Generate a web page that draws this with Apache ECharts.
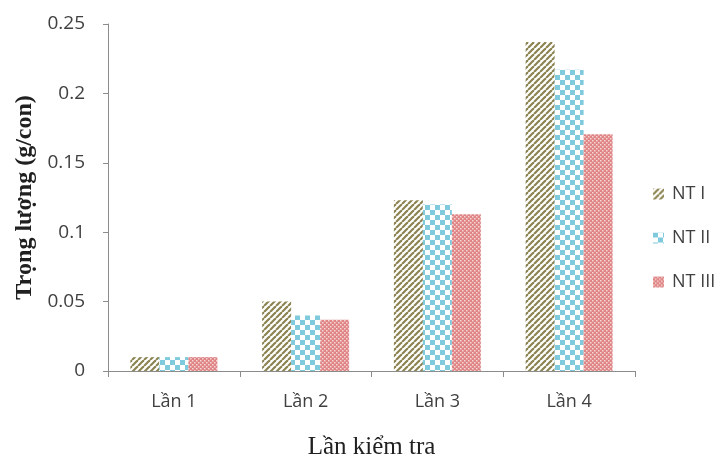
<!DOCTYPE html>
<html>
<head>
<meta charset="utf-8">
<script src="https://cdn.jsdelivr.net/npm/echarts@6/dist/echarts.min.js"></script>
<style>
  html, body { margin: 0; padding: 0; background: #fff; }
  #chart { width: 722px; height: 458px; }
</style>
</head>
<body>
<div id="chart"></div>
<script>
// Weighings (Lần kiểm tra) and mean weight per treatment, g/con
const categories = ['Lần 1', 'Lần 2', 'Lần 3', 'Lần 4'];
const seriesNames = ['NT I', 'NT II', 'NT III'];
const ntI = [0.01, 0.05, 0.123, 0.237];
const ntII = [0.01, 0.04, 0.12, 0.217];
const ntIII = [0.01, 0.037, 0.113, 0.1705];
const yTicks = [0, 0.05, 0.1, 0.15, 0.2, 0.25];

// Fill patterns for the three treatments
function stripePattern() {
  const c = document.createElement('canvas');
  c.width = 6; c.height = 6;
  const g = c.getContext('2d');
  g.fillStyle = '#ffffff'; g.fillRect(0, 0, 6, 6);
  g.strokeStyle = '#8c8452'; g.lineWidth = 2.2;
  for (let k = -6; k <= 12; k += 6) {
    g.beginPath(); g.moveTo(k, 6); g.lineTo(k + 6, 0); g.stroke();
  }
  return c;
}
function checkerPattern() {
  const c = document.createElement('canvas');
  c.width = 10; c.height = 10;
  const g = c.getContext('2d');
  g.fillStyle = '#ffffff'; g.fillRect(0, 0, 10, 10);
  g.fillStyle = '#7fcadc';
  g.fillRect(0, 0, 5, 5); g.fillRect(5, 5, 5, 5);
  return c;
}
function dotPattern() {
  const c = document.createElement('canvas');
  c.width = 4; c.height = 4;
  const g = c.getContext('2d');
  g.fillStyle = '#e08585'; g.fillRect(0, 0, 4, 4);
  g.fillStyle = '#f6d6d6';
  g.fillRect(0, 0, 1.5, 1.5); g.fillRect(2, 2, 1.5, 1.5);
  return c;
}

const fills = [
  { image: stripePattern(), repeat: 'repeat' },
  { image: checkerPattern(), repeat: 'repeat' },
  { image: dotPattern(), repeat: 'repeat' }
];
const values = [ntI, ntII, ntIII];
const sans = 'Open Sans, Liberation Sans, sans-serif';
const serif = 'Liberation Serif, Times New Roman, serif';

const chart = echarts.init(document.getElementById('chart'), null, { renderer: 'canvas' });
chart.setOption({
  animation: false,
  backgroundColor: '#ffffff',
  grid: { left: 108, right: 87, top: 24, bottom: 87, containLabel: false, outerBoundsMode: 'none' },
  legend: {
    orient: 'vertical',
    left: 648,
    top: 180,
    itemGap: 26,
    itemWidth: 11,
    itemHeight: 11,
    icon: 'rect',
    data: seriesNames,
    textStyle: { fontFamily: sans, fontSize: 18, color: '#404040', padding: [0, 0, 0, 3] }
  },
  xAxis: {
    type: 'category',
    data: categories,
    name: 'Lần kiểm tra',
    nameLocation: 'middle',
    nameGap: 64,
    nameTextStyle: { fontFamily: serif, fontSize: 25, color: '#202020' },
    axisLine: { lineStyle: { color: '#8c8c8c', width: 1 } },
    axisTick: { show: true, alignWithLabel: false, length: 6, lineStyle: { color: '#8c8c8c' } },
    axisLabel: { fontFamily: sans, fontSize: 18, color: '#404040', margin: 22 }
  },
  yAxis: {
    type: 'value',
    min: yTicks[0],
    max: yTicks[yTicks.length - 1],
    interval: 0.05,
    name: 'Trọng lượng (g/con)',
    nameLocation: 'middle',
    nameRotate: 90,
    nameGap: 71,
    nameTextStyle: { fontFamily: serif, fontSize: 24, fontWeight: 'bold', color: '#202020' },
    axisLine: { show: true, lineStyle: { color: '#8c8c8c', width: 1 } },
    axisTick: { show: true, length: 5, lineStyle: { color: '#8c8c8c' } },
    axisLabel: {
      fontFamily: sans, fontSize: 19, color: '#404040', margin: 23,
      formatter: v => String(+v.toFixed(2))
    },
    splitLine: { show: false }
  },
  series: seriesNames.map((name, i) => ({
    name,
    type: 'bar',
    data: values[i],
    barGap: '0%',
    barCategoryGap: '34%',
    itemStyle: { color: fills[i] }
  }))
});
</script>
</body>
</html>
